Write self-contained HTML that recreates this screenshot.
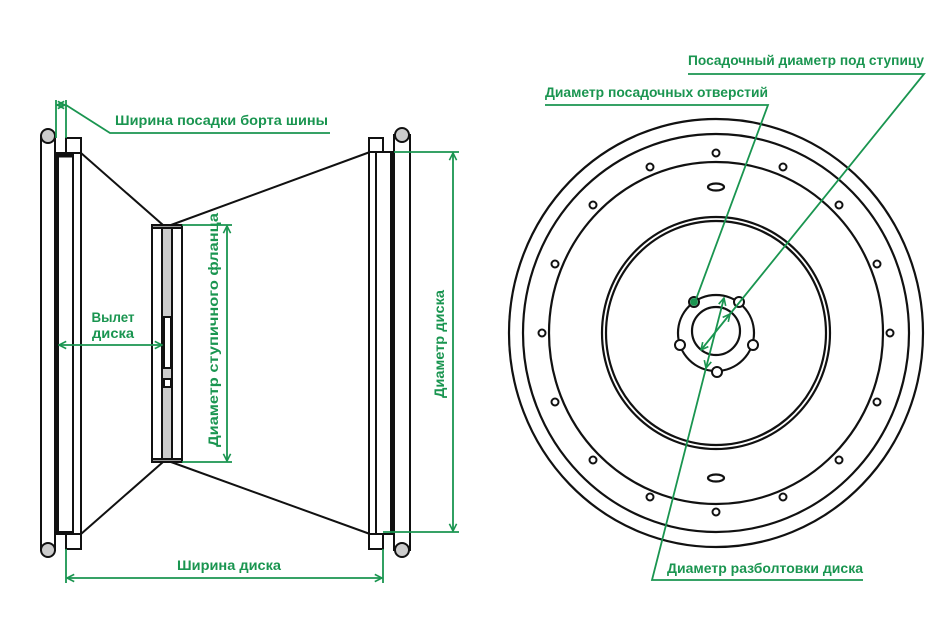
<!DOCTYPE html>
<html><head><meta charset="utf-8"><style>
html,body{margin:0;padding:0;background:#fff}
svg{display:block}
text{font-family:"Liberation Sans",sans-serif;font-weight:bold;font-size:13.5px;fill:#1a9550}
</style></head><body>
<svg width="952" height="640" viewBox="0 0 952 640" xmlns="http://www.w3.org/2000/svg">
<defs>
<marker id="a" viewBox="0 0 10 10" refX="9" refY="5" markerWidth="9" markerHeight="9" orient="auto-start-reverse" markerUnits="userSpaceOnUse"><path d="M1 1 L9 5 L1 9" fill="none" stroke="#1a9550" stroke-width="1.8"/></marker>
</defs>
<g fill="#fff" stroke="#111" stroke-width="2">
<rect x="41" y="136" width="14" height="414"/>
<circle cx="48" cy="136" r="7" fill="#ccc"/>
<circle cx="48" cy="550" r="7" fill="#ccc"/>
<rect x="56" y="153" width="25" height="381"/>
<rect x="58" y="155" width="15" height="377"/>
<line x1="58" y1="156" x2="73" y2="156" stroke-width="3"/>
<rect x="66" y="138" width="15" height="15"/>
<rect x="66" y="534" width="15" height="15"/>
<line x1="81" y1="153" x2="163" y2="225"/>
<line x1="81" y1="534" x2="163" y2="462"/>
<line x1="171" y1="225" x2="370" y2="152"/>
<line x1="171" y1="462" x2="370" y2="534"/>
<rect x="152" y="225" width="30" height="237"/>
<rect x="162" y="225" width="10" height="237" fill="#ccc"/>
<rect x="164" y="317" width="7" height="51"/>
<rect x="164" y="379" width="7" height="8"/>
<rect x="152" y="225" width="30" height="3" fill="#999"/>
<rect x="152" y="459" width="30" height="3" fill="#999"/>
<rect x="369" y="152" width="24" height="382"/>
<rect x="376" y="152" width="15" height="382"/>
<rect x="369" y="138" width="14" height="14"/>
<rect x="369" y="534" width="14" height="15"/>
<rect x="394" y="135" width="16" height="415"/>
<circle cx="402" cy="135" r="7" fill="#ccc"/>
<circle cx="402" cy="550" r="7" fill="#ccc"/>
</g>
<g stroke="#1a9550" stroke-width="1.8" fill="none">
<line x1="56" y1="100" x2="56" y2="138"/><line x1="66" y1="100" x2="66" y2="138"/>
<line x1="57" y1="105" x2="65" y2="105" marker-start="url(#a)" marker-end="url(#a)"/>
<polyline points="66,105 110,133 330,133"/>
<line x1="59" y1="345" x2="162" y2="345" marker-start="url(#a)" marker-end="url(#a)"/>
<line x1="182" y1="225" x2="232" y2="225"/><line x1="182" y1="462" x2="232" y2="462"/>
<line x1="227" y1="226" x2="227" y2="461" marker-start="url(#a)" marker-end="url(#a)"/>
<line x1="394" y1="152" x2="459" y2="152"/><line x1="383" y1="532" x2="459" y2="532"/>
<line x1="453" y1="153" x2="453" y2="531" marker-start="url(#a)" marker-end="url(#a)"/>
<line x1="66" y1="549" x2="66" y2="583"/><line x1="383" y1="549" x2="383" y2="583"/>
<line x1="67" y1="578" x2="382" y2="578" marker-start="url(#a)" marker-end="url(#a)"/>
</g>
<text x="115" y="125" textLength="213" lengthAdjust="spacingAndGlyphs">Ширина посадки борта шины</text>
<text x="113" y="322" text-anchor="middle" textLength="43" lengthAdjust="spacingAndGlyphs">Вылет</text>
<text x="113" y="338" text-anchor="middle" textLength="42" lengthAdjust="spacingAndGlyphs">диска</text>
<text transform="translate(218,330) rotate(-90)" text-anchor="middle" textLength="234" lengthAdjust="spacingAndGlyphs">Диаметр ступичного фланца</text>
<text transform="translate(444,344) rotate(-90)" text-anchor="middle" textLength="108" lengthAdjust="spacingAndGlyphs">Диаметр диска</text>
<text x="229" y="570" text-anchor="middle" textLength="104" lengthAdjust="spacingAndGlyphs">Ширина диска</text>
<g fill="none" stroke="#111" stroke-width="2.2">
<ellipse cx="716" cy="333" rx="207" ry="214"/>
<ellipse cx="716" cy="333" rx="193" ry="199"/>
<ellipse cx="716" cy="333" rx="167" ry="171"/>
<ellipse cx="716" cy="333" rx="114" ry="116"/>
<ellipse cx="716" cy="333" rx="110" ry="112"/>
<circle cx="716" cy="333" r="38"/>
<circle cx="716" cy="331" r="24"/>
<ellipse cx="716" cy="187" rx="8" ry="3.5"/>
<ellipse cx="716" cy="478" rx="8" ry="3.5"/>
</g>
<g fill="#fff" stroke="#111" stroke-width="2">
<circle cx="716" cy="153" r="3.5"/><circle cx="716" cy="512" r="3.5"/>
<circle cx="650" cy="167" r="3.5"/><circle cx="783" cy="167" r="3.5"/>
<circle cx="593" cy="205" r="3.5"/><circle cx="839" cy="205" r="3.5"/>
<circle cx="555" cy="264" r="3.5"/><circle cx="877" cy="264" r="3.5"/>
<circle cx="542" cy="333" r="3.5"/><circle cx="890" cy="333" r="3.5"/>
<circle cx="555" cy="402" r="3.5"/><circle cx="877" cy="402" r="3.5"/>
<circle cx="593" cy="460" r="3.5"/><circle cx="839" cy="460" r="3.5"/>
<circle cx="650" cy="497" r="3.5"/><circle cx="783" cy="497" r="3.5"/>
<circle cx="694" cy="302" r="5"/><circle cx="739" cy="302" r="5"/>
<circle cx="680" cy="345" r="5"/><circle cx="753" cy="345" r="5"/>
<circle cx="717" cy="372" r="5"/>
</g>
<g stroke="#1a9550" stroke-width="1.8" fill="none">
<polyline points="688,74 924,74 730,314"/>
<line x1="730" y1="314" x2="701" y2="350" marker-start="url(#a)" marker-end="url(#a)"/>
<polyline points="545,105 768,105 695,302"/>
<circle cx="694" cy="302" r="3" fill="#1a9550"/>
<polyline points="863,580 652,580 706,368"/>
<line x1="706" y1="368" x2="724" y2="298" marker-start="url(#a)" marker-end="url(#a)"/>
</g>
<text x="688" y="65" textLength="236" lengthAdjust="spacingAndGlyphs">Посадочный диаметр под ступицу</text>
<text x="545" y="97" textLength="223" lengthAdjust="spacingAndGlyphs">Диаметр посадочных отверстий</text>
<text x="667" y="573" textLength="196" lengthAdjust="spacingAndGlyphs">Диаметр разболтовки диска</text>
</svg>
</body></html>
